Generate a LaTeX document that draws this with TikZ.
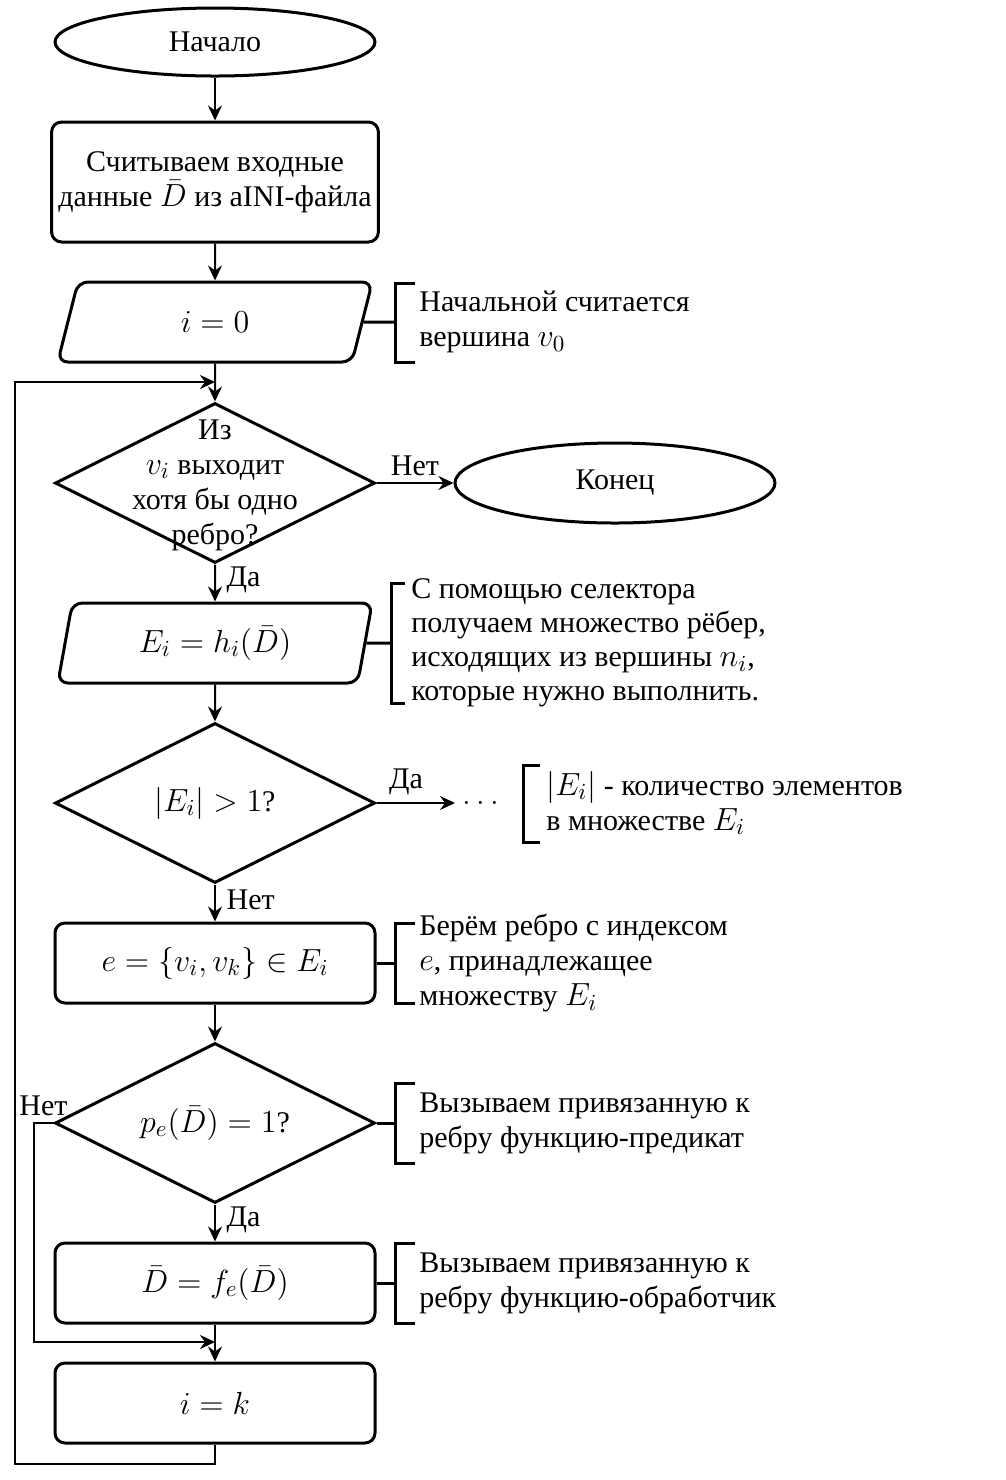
\RequirePackage{fix-cm}
\documentclass[tikz,border=0pt]{standalone}
\usepackage[no-math]{fontspec}
\setmainfont{Liberation Serif}
\DeclareMathSizes{15}{16}{11.5}{9}
\usetikzlibrary{shapes.geometric, arrows.meta, positioning}

\begin{document}
\begin{tikzpicture}[x=0.5pt, y=-0.5pt,
  every node/.style={font=\fontsize{15}{17.5}\selectfont},
  term/.style={ellipse, draw, line width=1.5pt, minimum width=160pt, minimum height=34pt},
  proc/.style={rectangle, draw, line width=1.5pt, rounded corners=5pt, minimum width=160pt, minimum height=40pt, align=center},
  io/.style={trapezium, trapezium left angle=80, trapezium right angle=100, trapezium stretches=true, draw, line width=1.5pt, rounded corners=5pt, minimum width=158pt, minimum height=40pt},
  decision/.style={diamond, draw, line width=1.5pt, aspect=2, inner sep=0pt, minimum width=160pt, minimum height=80pt},
  notetext/.style={anchor=west, align=left, inner sep=1.5pt},
  brace/.style={line width=1.5pt},
  arrow/.style={-{Stealth[length=7.5pt, width=7pt, inset=2.5pt]}, line width=1pt},
  plain/.style={line width=1pt}
]
\useasboundingbox (0,0) rectangle (1006,1480);

% Main flow
\node[term] (start) at (215,42) {Начало};
\node[proc, minimum height=60pt] (read) at (215,182) {Считываем входные\\данные $\bar{D}$ из aINI-файла};
\node[io] (init) at (215,322) {$i = 0$};
\node[decision] (hasEdge) at (215,483) {};
\node[align=center] (hasEdgeText) at (215,485) {Из\\$v_i$ выходит\\хотя бы одно\\ребро?};
\node[term, minimum height=40pt] (finish) at (615,483) {Конец};
\node[io] (select) at (215,643) {$E_i = h_i(\bar{D})$};
\node[decision] (many) at (215,803) {$|E_i| > 1$?};
\node[anchor=west] (dots) at (455,803) {$\dots$};
\node[proc] (pick) at (215,963) {$e = \{v_i, v_k\} \in E_i$};
\node[decision] (pred) at (215,1123) {$p_e(\bar{D}) = 1$?};
\node[proc] (apply) at (215,1283) {$\bar{D} = f_e(\bar{D})$};
\node[proc] (next) at (215,1403) {$i = k$};

\coordinate (loopIn) at (215,382);
\coordinate (mergeIn) at (215,1342);

\draw[arrow] (start.south) -- (read.north);
\draw[arrow] (read.south) -- (init.north);
\draw[arrow] (init.south) -- (hasEdge.north);
\draw[arrow] (hasEdge.east) -- node[above] {Нет} (finish.west);
\draw[arrow] (hasEdge.south) -- node[right, pos=0.42, xshift=2pt] {Да} (select.north);
\draw[arrow] (select.south) -- (many.north);
\draw[arrow] (many.east) -- node[above, pos=0.375] {Да} (many.east -| dots.west);
\draw[arrow] (many.south) -- node[right, pos=0.42, xshift=2pt] {Нет} (pick.north);
\draw[arrow] (pick.south) -- (pred.north);
\draw[arrow] (pred.south) -- node[right, pos=0.42, xshift=2pt] {Да} (apply.north);
\draw[arrow] (apply.south) -- (next.north);
\draw[arrow] (pred.west) -- node[above] {Нет} ++(-20,0) |- (mergeIn);
\draw[arrow] (next.south) -- ++(0,19) -- ++(-200,0) |- (loopIn);

% Notes
\coordinate (initNote) at (395,322);
\draw[plain, line width=1.5pt] (init.east) -- (initNote);
\draw[brace] (415,283) -- (395,283) -- (395,362) -- (415,362);
\node[notetext] (initNoteText) at (416,322) {Начальной считается\\вершина $v_0$};

\coordinate (selectNote) at (391,643);
\draw[plain, line width=1.5pt] (select.east) -- (selectNote);
\draw[brace] (405,583) -- (391,583) -- (391,703) -- (405,703);
\node[notetext, font=\fontsize{15}{17}\selectfont] (selectNoteText) at (408,643) {С помощью селектора\\получаем множество рёбер,\\исходящих из вершины $n_i$,\\которые нужно выполнить.};

\draw[brace] (540,765) -- (523,765) -- (523,842) -- (540,842);
\node[notetext] (manyNoteText) at (543,803) {$|E_i|$ - количество элементов\\в множестве $E_i$};

\coordinate (pickNote) at (395,963);
\draw[plain, line width=1.5pt] (pick.east) -- (pickNote);
\draw[brace] (415,923) -- (395,923) -- (395,1003) -- (415,1003);
\node[notetext] (pickNoteText) at (416,963) {Берём ребро с индексом\\$e$, принадлежащее\\множеству $E_i$};

\coordinate (predNote) at (395,1123);
\draw[plain, line width=1.5pt] (pred.east) -- (predNote);
\draw[brace] (415,1083) -- (395,1083) -- (395,1163) -- (415,1163);
\node[notetext] (predNoteText) at (416,1123) {Вызываем привязанную к\\ребру функцию-предикат};

\coordinate (applyNote) at (395,1283);
\draw[plain, line width=1.5pt] (apply.east) -- (applyNote);
\draw[brace] (415,1243) -- (395,1243) -- (395,1323) -- (415,1323);
\node[notetext] (applyNoteText) at (416,1283) {Вызываем привязанную к\\ребру функцию-обработчик};

\end{tikzpicture}
\end{document}
